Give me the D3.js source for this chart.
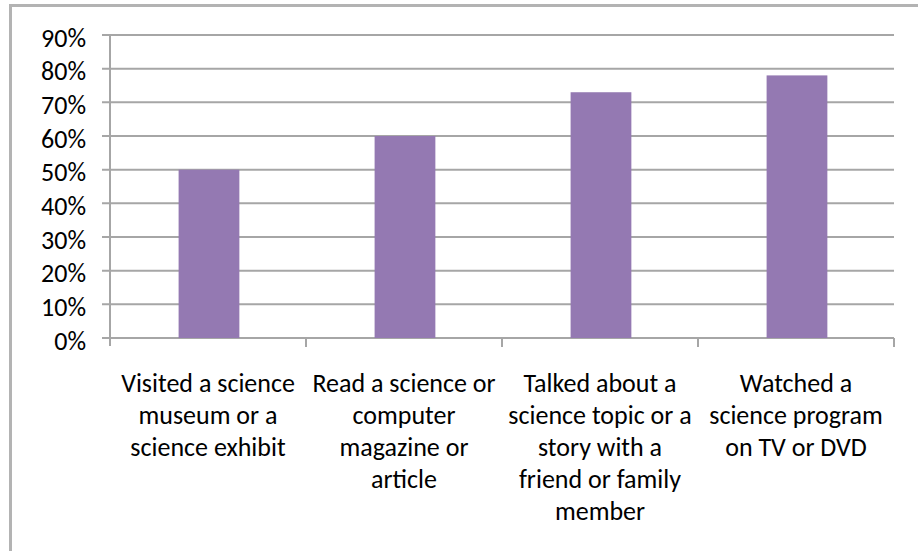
<!DOCTYPE html>
<html><head><meta charset="utf-8">
<script src="https://cdn.jsdelivr.net/npm/d3@7/dist/d3.min.js"></script>
<style>body{margin:0;background:#fff}svg{display:block}</style>
</head><body>
<svg id="c" width="918" height="551"></svg>
<script>
const categories = [
  ["Visited a science","museum or a","science exhibit"],
  ["Read a science or","computer","magazine or","article"],
  ["Talked about a","science topic or a","story with a","friend or family","member"],
  ["Watched a","science program","on TV or DVD"]
];
const values = [0.50, 0.60, 0.73, 0.78];
const yTicks = [0,0.1,0.2,0.3,0.4,0.5,0.6,0.7,0.8,0.9];

const svg = d3.select("#c");
const W = 918, H = 551;
const m = {left:110, right:24, top:35, bottom:213};
const pw = W - m.left - m.right, ph = H - m.top - m.bottom;
const font = "Carlito, 'Liberation Sans Narrow', 'Liberation Sans', sans-serif";

svg.append("path").attr("d",`M10.5,${H}V5.5H${W}`).attr("fill","none").attr("stroke","#b3b3b3").attr("stroke-width",3);

const x = d3.scaleBand().domain(d3.range(categories.length)).range([m.left, m.left+pw]).paddingInner(0).paddingOuter(0);
const y = d3.scaleLinear().domain([0,0.9]).range([m.top+ph, m.top]);

const g = svg.append("g");
// gridlines
g.selectAll("line.grid").data(yTicks).join("line")
  .attr("x1", m.left-8).attr("x2", m.left+pw)
  .attr("y1", d=>y(d)).attr("y2", d=>y(d))
  .attr("stroke","#a6a6a6").attr("stroke-width",2);

// bars
g.selectAll("rect").data(values).join("rect")
  .attr("x",(d,i)=>x(i)+x.bandwidth()*0.35)
  .attr("width",x.bandwidth()*0.31)
  .attr("y",d=>y(d)).attr("height",d=>y(0)-y(d))
  .attr("fill","#9479b2");

// axes lines
g.append("line").attr("x1",m.left).attr("x2",m.left).attr("y1",m.top).attr("y2",y(0)+8)
  .attr("stroke","#a6a6a6").attr("stroke-width",2);
g.selectAll("line.ct").data(d3.range(categories.length)).join("line")
  .attr("x1",i=>x(i)+x.bandwidth()).attr("x2",i=>x(i)+x.bandwidth())
  .attr("y1",y(0)).attr("y2",y(0)+9).attr("stroke","#a6a6a6").attr("stroke-width",2);

// y tick labels
g.selectAll("text.yt").data(yTicks).join("text")
  .attr("x",86).attr("y",d=>y(d)+11.5).attr("text-anchor","end")
  .attr("font-family",font).attr("font-size",26).attr("fill","#000")
  .text(d=>d3.format(".0%")(d));

// category labels
categories.forEach((lines,i)=>{
  const t = g.append("text").attr("text-anchor","middle")
    .attr("font-family",font).attr("font-size",26).attr("fill","#000");
  lines.forEach((ln,j)=>{
    t.append("tspan").attr("x",x(i)+x.bandwidth()/2).attr("y",y(0)+54+j*32).text(ln);
  });
});
</script>
</body></html>
